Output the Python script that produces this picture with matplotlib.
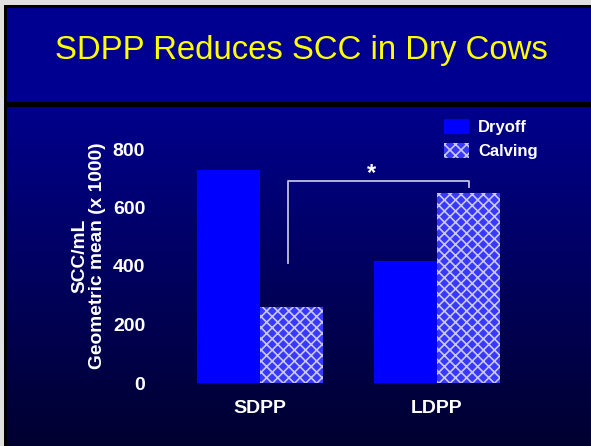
import numpy as np
import matplotlib.pyplot as plt
from matplotlib.patches import Rectangle

plt.rcParams['font.family'] = ['Liberation Sans', 'DejaVu Sans']

# data
groups = ['SDPP', 'LDPP']
dryoff = [728, 417]
calving = [260, 650]
yticks = [0, 200, 400, 600, 800]

fig = plt.figure(figsize=(5.91, 4.46), dpi=100)

# background: gradient below the title band
bg = fig.add_axes([0, 0, 1, 1])
bg.set_xlim(0, 591)
bg.set_ylim(446, 0)
bg.axis('off')
grad = np.linspace(0, 1, 256).reshape(-1, 1)
top = np.array([0, 0, 0x8c]) / 255
bot = np.array([0, 0, 0x30]) / 255
img = top + (bot - top) * grad[:, :, None]
bg.imshow(img, extent=[0, 591, 446, 105], aspect='auto')
# title band and frame
bg.add_patch(Rectangle((0, 5), 591, 98, facecolor='#000090', edgecolor='none'))
bg.add_patch(Rectangle((0, 0), 591, 4.5, facecolor='#e0e0e0', edgecolor='none'))
bg.add_patch(Rectangle((0, 0), 4, 446, facecolor='#e0e0e0', edgecolor='none'))
bg.add_patch(Rectangle((4, 4.5), 591, 3, facecolor='black', edgecolor='none'))
bg.add_patch(Rectangle((4, 4.5), 3, 446, facecolor='black', edgecolor='none'))
bg.add_patch(Rectangle((4, 102), 591, 4.5, facecolor='black', edgecolor='none'))
bg.text(301, 51, 'SDPP Reduces SCC in Dry Cows', color='#ffff00', fontsize=23.7,
        ha='center', va='center')

# chart
ax = fig.add_axes([148 / 591, 63 / 446, 412 / 591, 234 / 446])
ax.patch.set_alpha(0)
x = np.arange(len(groups))
w = 0.356
ax.bar(x - w / 2, dryoff, w, color='#0000ff', linewidth=0, label='Dryoff')
plt.rcParams['hatch.linewidth'] = 1.2
ax.bar(x + w / 2, calving, w, color='#3838ff', hatch='xxx', edgecolor='#c8c8ff',
       linewidth=0, label='Calving')
ax.set_xlim(-0.633, 1.695)
ax.set_ylim(0, 800)
ax.set_yticks(yticks)
ax.set_xticks(x)
ax.set_xticklabels(groups)
for s in ax.spines.values():
    s.set_visible(False)
ax.tick_params(length=0, colors='white', labelsize=14)
ax.tick_params(axis='y', pad=2)
ax.tick_params(axis='x', pad=12)
for t in ax.get_xticklabels() + ax.get_yticklabels():
    t.set_fontweight('bold')
ax.set_ylabel('SCC/mL\nGeometric mean (x 1000)', color='white', fontsize=13.8,
              fontweight='bold', linespacing=1.05)
ax.yaxis.set_label_coords(-0.102, 0.545)

# significance bracket
ax.plot([0.16, 0.16, 1.18, 1.18], [410, 690, 690, 670], color='#c0c0d8', lw=1.3)
ax.text(0.63, 715, '*', color='white', fontsize=17, fontweight='bold', ha='center', va='center')

leg = ax.legend(loc='upper left', bbox_to_anchor=(444 / 591, 1 - 119 / 446),
                bbox_transform=fig.transFigure, frameon=False, borderpad=0,
                borderaxespad=0, handlelength=1.5, handleheight=1.0,
                handletextpad=0.55, fontsize=12, labelspacing=0.45)
for t in leg.get_texts():
    t.set_color('white')
    t.set_fontweight('bold')

fig.savefig('out.png', dpi=100)
